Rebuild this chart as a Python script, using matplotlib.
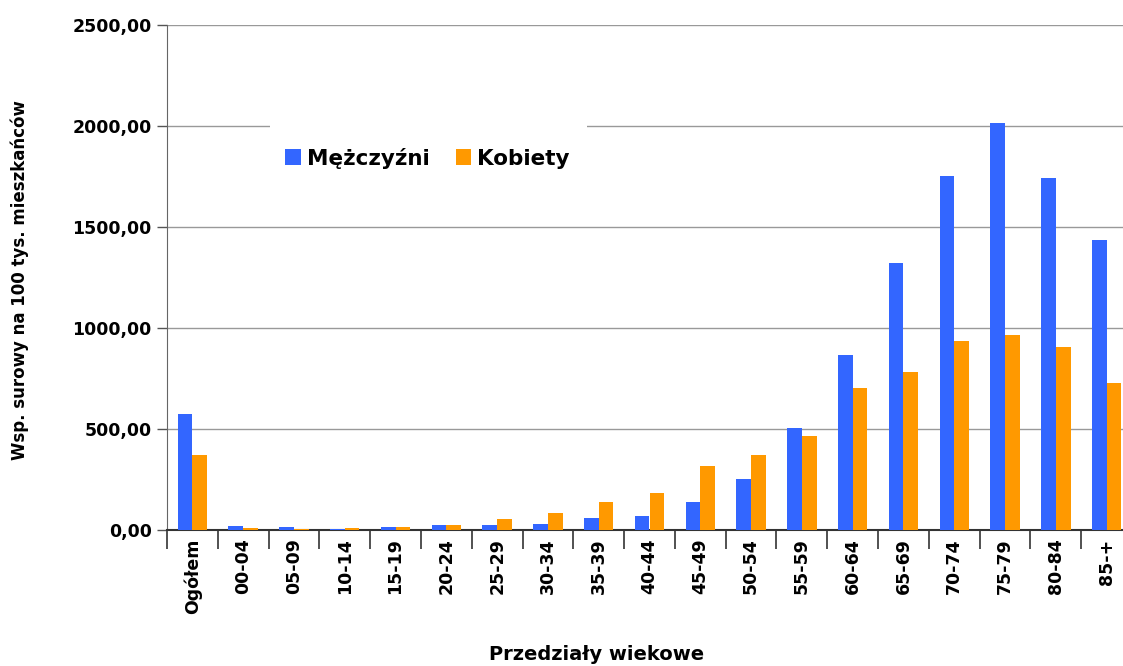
import numpy as np
import matplotlib.pyplot as plt
from matplotlib.patches import Rectangle

# Dane
kategorie = ["Ogółem", "00-04", "05-09", "10-14", "15-19", "20-24", "25-29",
             "30-34", "35-39", "40-44", "45-49", "50-54", "55-59", "60-64",
             "65-69", "70-74", "75-79", "80-84", "85-+"]
mezczyzni = [574, 21, 16, 6, 15, 26, 26, 31, 58, 68, 137, 251, 507, 866,
             1322, 1752, 2015, 1742, 1436]
kobiety = [371, 11, 6, 11, 15, 26, 56, 86, 137, 182, 315, 370, 463, 703,
           782, 935, 965, 906, 728]
y_ticks = [0, 500, 1000, 1500, 2000, 2500]

NIEBIESKI = "#3366ff"
POMARANCZ = "#ff9900"

plt.rcParams['font.family'] = ['DejaVu Sans']
plt.rcParams['font.weight'] = 'bold'
fig = plt.figure(figsize=(11.23, 6.66), dpi=100)
ax = fig.add_axes([167 / 1123, 1 - 530 / 666, 965 / 1123, 505 / 666])

x = np.arange(len(kategorie))
w = 0.29
ax.bar(x - w / 2, mezczyzni, width=w, color=NIEBIESKI, label="Mężczyźni", zorder=3)
ax.bar(x + w / 2, kobiety, width=w, color=POMARANCZ, label="Kobiety", zorder=3)

ax.set_xlim(-0.5, len(kategorie) - 0.5)
ax.set_ylim(0, 2500)
ax.set_yticks(y_ticks, labels=[f"{v:.2f}".replace(".", ",") for v in y_ticks],
              fontweight="bold", fontsize=12.5)
ax.grid(axis="y", color="#999999", linewidth=1, zorder=0)

# etykiety kategorii
ax.set_xticks(x, labels=kategorie, rotation=90, fontsize=12.5, fontweight="bold")
ax.tick_params(axis="x", length=0, pad=6)
ax.set_xticks(np.arange(-0.5, len(kategorie), 1), minor=True)
ax.tick_params(axis="x", which="minor", length=14, width=1.2, color="#333333")
ax.tick_params(axis="y", length=7, width=1, color="#555555", pad=4)

for s in ["top", "right"]:
    ax.spines[s].set_visible(False)
ax.spines["left"].set_color("#666666")
ax.spines["bottom"].set_color("#333333")
ax.spines["bottom"].set_linewidth(1.5)

# białe tło legendy (przerywa linię siatki przy 2000)
tlo = Rectangle((103 / 965, (530 - 205) / 505), 317 / 965, 95 / 505,
                transform=ax.transAxes, facecolor="white", edgecolor="none", zorder=4)
ax.add_patch(tlo)

leg = ax.legend(loc="center", bbox_to_anchor=(0.27, 0.7366), ncol=2,
                frameon=False, prop={"weight": "bold", "size": 15.5},
                handlelength=0.7, handleheight=0.7, handletextpad=0.3,
                columnspacing=1.2, borderpad=0, borderaxespad=0)
leg.set_zorder(5)

fig.text(20 / 1123, 1 - 280 / 666, "Wsp. surowy na 100 tys. mieszkańców",
         rotation=90, ha="center", va="center", fontsize=12)
fig.text(597 / 1123, 1 - 655 / 666, "Przedziały wiekowe",
         ha="center", va="center", fontsize=14)

fig.savefig("out.png", dpi=100)
